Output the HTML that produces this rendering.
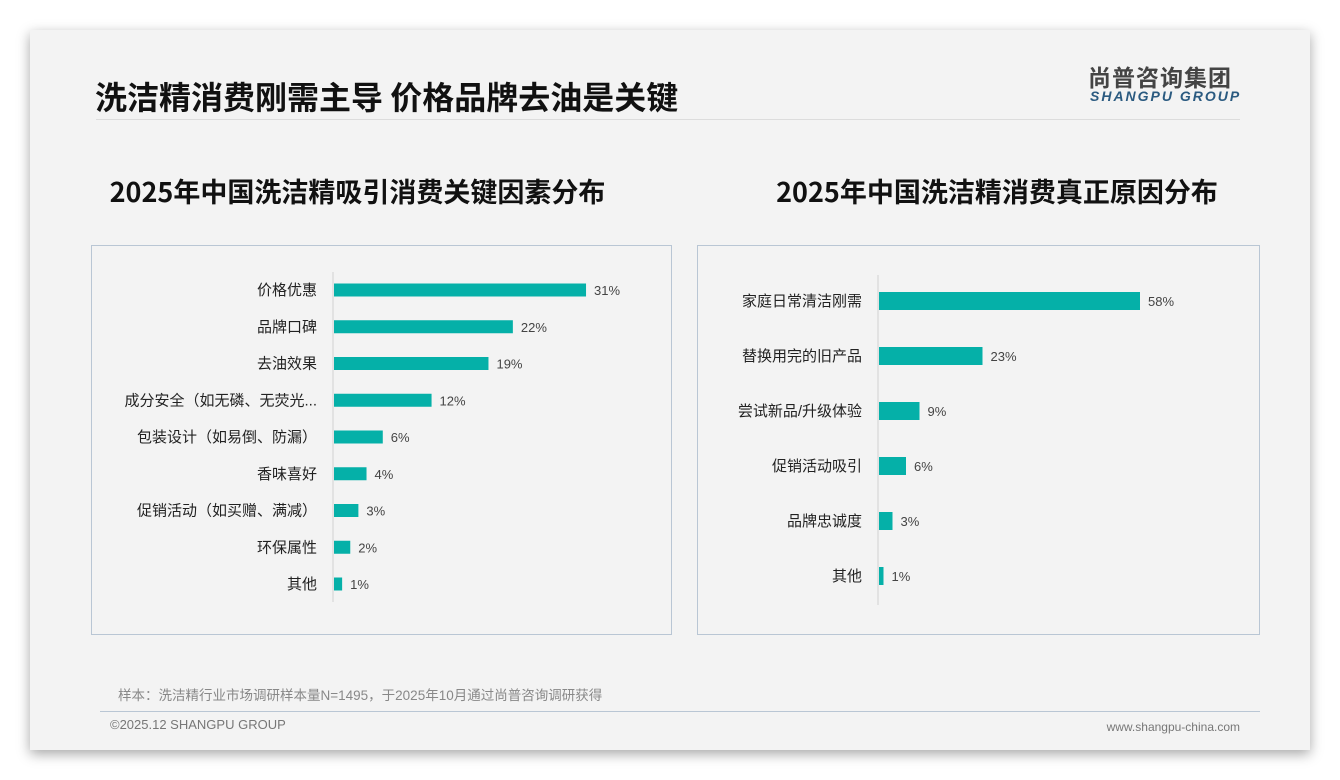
<!DOCTYPE html>
<html><head><meta charset="utf-8">
<style>
body{margin:0;width:1340px;height:780px;background:#fff;position:relative;overflow:hidden;font-family:"Liberation Sans","Noto Sans CJK SC",sans-serif;}
.card{position:absolute;left:30px;top:30px;width:1280px;height:720px;background:#f3f3f3;box-shadow:0 4px 12px rgba(0,0,0,0.35);}
.abs{position:absolute;}
</style></head><body>
<div class="card"></div>
<div class="abs" style="left:95px;top:75px;font-size:32px;font-weight:bold;color:#111;font-family:'Noto Sans CJK SC',sans-serif;line-height:42px;">洗洁精消费刚需主导 价格品牌去油是关键</div>
<div class="abs" style="left:96px;top:119px;width:1144px;height:1px;background:#dcdcdc;"></div>
<div class="abs" style="left:1088px;top:61px;font-size:23px;font-weight:bold;color:#444;letter-spacing:1px;font-family:'Noto Sans CJK SC',sans-serif;line-height:30px;">尚普咨询集团</div>
<div class="abs" style="left:1090px;top:88px;font-size:14px;font-weight:bold;font-style:italic;color:#2a5a80;letter-spacing:2px;line-height:16px;">SHANGPU GROUP</div>

<div class="abs" style="left:80px;width:555px;text-align:center;top:173px;font-size:27px;font-weight:bold;color:#111;font-family:'Noto Sans CJK SC',sans-serif;line-height:36px;">2025年中国洗洁精吸引消费关键因素分布</div>
<div class="abs" style="left:697px;width:600px;text-align:center;top:173px;font-size:27px;font-weight:bold;color:#111;font-family:'Noto Sans CJK SC',sans-serif;line-height:36px;">2025年中国洗洁精消费真正原因分布</div>

<svg class="abs" style="left:0;top:0" width="1340" height="780">
<rect x="91.5" y="245.5" width="580" height="389" fill="#f3f3f3" stroke="#b9c6d4"/>
<rect x="697.5" y="245.5" width="562" height="389" fill="#f3f3f3" stroke="#b9c6d4"/>
<g id="left"></g><g id="right"></g>
</svg>

<div class="abs" style="left:118px;top:688px;font-size:13.5px;color:#888;line-height:16px;">样本：洗洁精行业市场调研样本量N=1495，于2025年10月通过尚普咨询调研获得</div>
<div class="abs" style="left:100px;top:711px;width:1160px;height:1px;background:#b9c6d4;"></div>
<div class="abs" style="left:110px;top:717px;font-size:13px;color:#777;line-height:16px;">©2025.12 SHANGPU GROUP</div>
<div class="abs" style="left:1040px;width:200px;text-align:right;top:719px;font-size:12px;color:#777;line-height:16px;">www.shangpu-china.com</div>

<script>
const leftCats=["价格优惠","品牌口碑","去油效果","成分安全（如无磷、无荧光...","包装设计（如易倒、防漏）","香味喜好","促销活动（如买赠、满减）","环保属性","其他"];
const leftVals=[31,22,19,12,6,4,3,2,1];
const rightCats=["家庭日常清洁刚需","替换用完的旧产品","尝试新品/升级体验","促销活动吸引","品牌忠诚度","其他"];
const rightVals=[58,23,9,6,3,1];
const NS="http://www.w3.org/2000/svg";
function draw(gid,cats,vals,x0,pxPer,y0,step,bh,axTop,axBot,prefix){
  const g=document.getElementById(gid);
  const ax=document.createElementNS(NS,"line");
  
  
  ax.setAttribute("x1",x0);ax.setAttribute("x2",x0);ax.setAttribute("y1",axTop);ax.setAttribute("y2",axBot);
  ax.setAttribute("stroke","#d0d0d0");g.appendChild(ax);
  cats.forEach((c,i)=>{
    const cy=y0+i*step,w=vals[i]*pxPer;
    const r=document.createElementNS(NS,"rect");
    
    
    r.setAttribute("x",x0+1);r.setAttribute("y",cy-bh/2);r.setAttribute("width",w);r.setAttribute("height",bh);r.setAttribute("fill","#05b0a8");g.appendChild(r);
    const t=document.createElementNS(NS,"text");
    
    
    t.setAttribute("x",x0-16);t.setAttribute("y",cy+5);t.setAttribute("text-anchor","end");t.setAttribute("font-size","15");t.setAttribute("fill","#222");
    t.setAttribute("font-family","Liberation Sans, Noto Sans CJK SC, sans-serif");t.textContent=c;g.appendChild(t);
    const v=document.createElementNS(NS,"text");
    
    
    v.setAttribute("x",x0+1+w+8);v.setAttribute("y",cy+5);v.setAttribute("font-size","13");v.setAttribute("fill","#444");
    v.setAttribute("font-family","Liberation Sans, sans-serif");v.textContent=vals[i]+"%";g.appendChild(v);
  });
}
draw("left",leftCats,leftVals,333,8.13,290,36.75,13,272,602,"left");
draw("right",rightCats,rightVals,878,4.5,301,55,18,275,605,"right");
</script>
</body></html>
